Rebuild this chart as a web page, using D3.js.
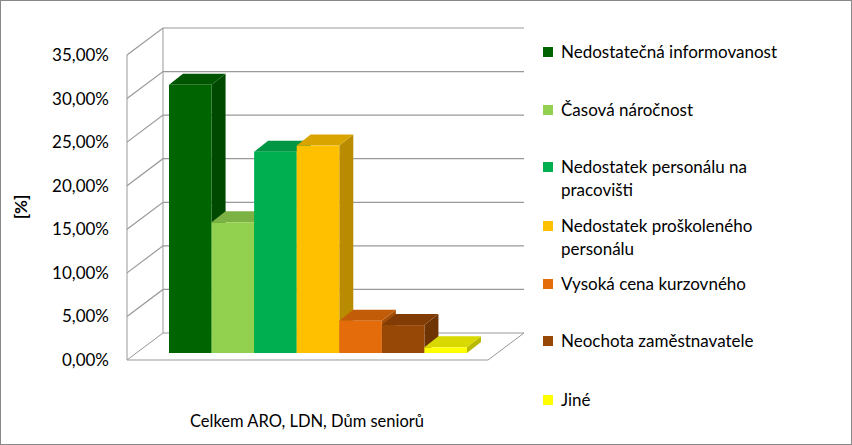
<!DOCTYPE html>
<html><head><meta charset="utf-8">
<script src="https://cdn.jsdelivr.net/npm/d3@7"></script>
<style>body{margin:0;background:#fff}text{font-family:Lato,"Open Sans",sans-serif}</style>
</head><body><div id="chart"></div>
<script>
// data
const categories = ["Nedostatečná informovanost", "Časová náročnost", "Nedostatek personálu na pracovišti",
  "Nedostatek proškoleného personálu", "Vysoká cena kurzovného", "Neochota zaměstnavatele", "Jiné"];
const legendLines = [["Nedostatečná informovanost"], ["Časová náročnost"], ["Nedostatek personálu na", "pracovišti"],
  ["Nedostatek proškoleného", "personálu"], ["Vysoká cena kurzovného"], ["Neochota zaměstnavatele"], ["Jiné"]];
const values = [30.77, 15.0, 23.1, 23.8, 3.7, 3.2, 0.65];
const ticks = [0, 5, 10, 15, 20, 25, 30, 35];
const colors = ["#006400", "#92D050", "#00B050", "#FFC000", "#E46C0A", "#974706", "#FFFF00"];

const width = 852, height = 445;
const depth = { dx: 36, dy: -27 };   // wall depth
const bar3d = { dx: 14, dy: -11 };   // bar depth

const svg = d3.select("#chart").append("svg").attr("width", width).attr("height", height);
svg.append("rect").attr("x", 0.5).attr("y", 0.5).attr("width", width - 1).attr("height", height - 1)
  .attr("fill", "#fff").attr("stroke", "#888");

const y = d3.scaleLinear().domain([0, 35]).range([360, 55]);
const x = d3.scaleBand().domain(categories).range([169, 467]).padding(0);
const xL = 127, xR = 488;

// floor
svg.append("polygon")
  .attr("points", [[xL, y(0)], [xL + depth.dx, y(0) + depth.dy], [xR + depth.dx, y(0) + depth.dy], [xR, y(0)]].join(" "))
  .attr("fill", "#fff").attr("stroke", "#999");

// gridlines on back + left walls
ticks.forEach(t => {
  if (t === 0) return;
  svg.append("polyline")
    .attr("points", [[xL, y(t)], [xL + depth.dx, y(t) + depth.dy], [xR + depth.dx, y(t) + depth.dy]].join(" "))
    .attr("fill", "none").attr("stroke", "#999").attr("stroke-width", 1.2);
});
svg.append("line").attr("x1", xL).attr("x2", xL).attr("y1", y(0)).attr("y2", y(35)).attr("stroke", "#999");
svg.append("line").attr("x1", xL + depth.dx).attr("x2", xL + depth.dx)
  .attr("y1", y(0) + depth.dy).attr("y2", y(35) + depth.dy).attr("stroke", "#999");

// tick labels
svg.selectAll(".tick").data(ticks).enter().append("text")
  .attr("x", 109).attr("y", d => y(d) + 6).attr("text-anchor", "end")
  .attr("font-size", 17).attr("fill", "#000")
  .text(d => d.toFixed(2).replace(".", ",") + "%");

svg.append("text").attr("transform", "translate(27,207) rotate(-90)")
  .attr("text-anchor", "middle").attr("font-size", 17).attr("font-weight", "bold").text("[%]");

// bars
const base = y(0) - 7;
const g = svg.append("g");
categories.forEach((c, i) => {
  const x0 = x(c), w = x.bandwidth();
  const top = base - (y(0) - y(values[i]));
  const col = d3.color(colors[i]);
  g.append("polygon")
    .attr("points", [[x0 + w, top], [x0 + w + bar3d.dx, top + bar3d.dy], [x0 + w + bar3d.dx, base + bar3d.dy], [x0 + w, base]].join(" "))
    .attr("fill", col.darker(0.9));
  g.append("polygon")
    .attr("points", [[x0, top], [x0 + bar3d.dx, top + bar3d.dy], [x0 + w + bar3d.dx, top + bar3d.dy], [x0 + w, top]].join(" "))
    .attr("fill", col.darker(0.45));
  g.append("rect").attr("x", x0).attr("y", top).attr("width", w).attr("height", base - top).attr("fill", colors[i]);
});

// category label
svg.append("text").attr("x", 307).attr("y", 427).attr("text-anchor", "middle")
  .attr("font-size", 16.5).text("Celkem ARO, LDN, Dům seniorů");

// legend
const legendY = [52, 110, 167, 226, 284, 341, 400];
legendLines.forEach((lines, i) => {
  svg.append("rect").attr("x", 543).attr("y", legendY[i] - 5).attr("width", 10).attr("height", 10).attr("fill", colors[i]);
  lines.forEach((l, j) => {
    svg.append("text").attr("x", 561).attr("y", legendY[i] + 6 + j * 23)
      .attr("font-size", 17).text(l);
  });
});
</script></body></html>
